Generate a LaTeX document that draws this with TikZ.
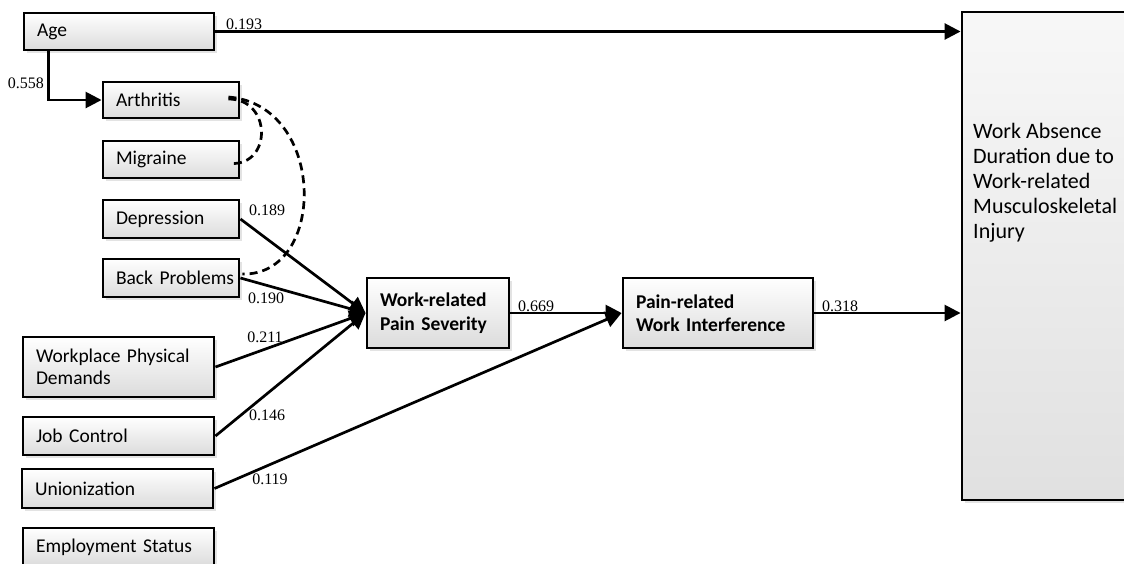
\documentclass[tikz,border=0pt]{standalone}
\usepackage{fontspec}
\setmainfont{Liberation Serif}
\newfontfamily\boxfont{Carlito}
\usetikzlibrary{arrows.meta,shadows,calc}
\begin{document}
\begin{tikzpicture}[x=1pt,y=-1pt,
  box/.style={draw=black, line width=2.9pt, rectangle, top color=white, bottom color=black!14,
    drop shadow={shadow xshift=2.5pt,shadow yshift=-3pt,opacity=0.22},
    font=\boxfont\fontsize{19.5}{22.5}\selectfont, align=left, inner xsep=13pt, inner ysep=0pt},
  bold/.style={font=\boxfont\bfseries\fontsize{19.5}{23.5}\selectfont},
  arr/.style={line width=2.7pt, -{Triangle[length=16pt,width=16pt]}},
  dashline/.style={line width=2.7pt, dash pattern=on 8pt off 5pt},
  num/.style={font=\fontsize{16}{18}\selectfont, inner sep=0pt}]
\useasboundingbox (0,0) rectangle (1124,563);
\clip (0,0) rectangle (1124,563);
% boxes
\node[box, text width=164pt, minimum height=37pt] (age) at (119,31.5) {Age};
\node[box, text width=110pt, minimum height=36pt] (arth) at (171,100) {Arthritis};
\node[box, text width=110pt, minimum height=37pt] (mig) at (171,159.5) {Migraine};
\node[box, text width=110pt, minimum height=38pt] (dep) at (171,219) {Depression};
\node[box, text width=110pt, minimum height=38pt] (back) at (171,278) {\mbox{Back Problems}};
\node[box, text width=165pt, minimum height=60pt] (wpd) at (118.5,367) {Workplace Physical\\Demands};
\node[box, text width=165pt, minimum height=38pt] (job) at (118.5,436) {Job Control};
\node[box, text width=165pt, minimum height=39pt] (union) at (117.5,488.5) {Unionization};
\node[box, text width=165pt, minimum height=38pt] (emp) at (118.5,547) {Employment Status};
\node[box, bold, text width=116pt, minimum height=70pt] (ps) at (438,313) {Work-related\\Pain Severity};
\node[box, bold, text width=164pt, minimum height=70pt] (pwi) at (718,313) {Pain-related\\Work Interference};
\node[box, minimum width=188pt, minimum height=488pt, top color=black!3, bottom color=black!12] (out) at (1056,256) {};
\node[anchor=north west, inner sep=0pt, align=left, font=\boxfont\fontsize{22}{25}\selectfont] (outtext) at (973,123)
  {Work Absence\\Duration due to\\Work-related\\Musculoskeletal\\Injury};
% connectors
\draw[arr] (age.east) -- (age.east -| out.west);
\draw[arr] ($(age.south west)+(26,0)$) |- (arth.west);
\draw[arr] (dep.east) -- (ps.west);
\draw[arr] (back.east) -- (ps.west);
\draw[arr] (wpd.east) -- (ps.west);
\draw[arr] (job.east) -- (ps.west);
\draw[arr] (union.east) -- (pwi.west);
\draw[arr] (ps.east) -- (pwi.west);
\draw[arr] (pwi.east) -- (pwi.east -| out.west);
% correlations
\draw[dashline] ($(arth.east)+(-12,-1)$) .. controls (272,99) and (272,165) .. ($(mig.east)+(-9,4)$);
\draw[dashline] ($(arth.east)+(-12,-3)$) .. controls (327,105) and (327,276) .. ($(back.east)+(2,-4)$);
% labels
\node[num] (l193) at (244,24) {0.193};
\node[num] (l558) at (26,83) {0.558};
\node[num] (l189) at (267,210) {0.189};
\node[num] (l190) at (266,298) {0.190};
\node[num] (l211) at (265,337) {0.211};
\node[num] (l146) at (267,415) {0.146};
\node[num] (l119) at (270,479) {0.119};
\node[num] (l669) at (536,306) {0.669};
\node[num] (l318) at (840,306) {0.318};
\end{tikzpicture}
\end{document}
